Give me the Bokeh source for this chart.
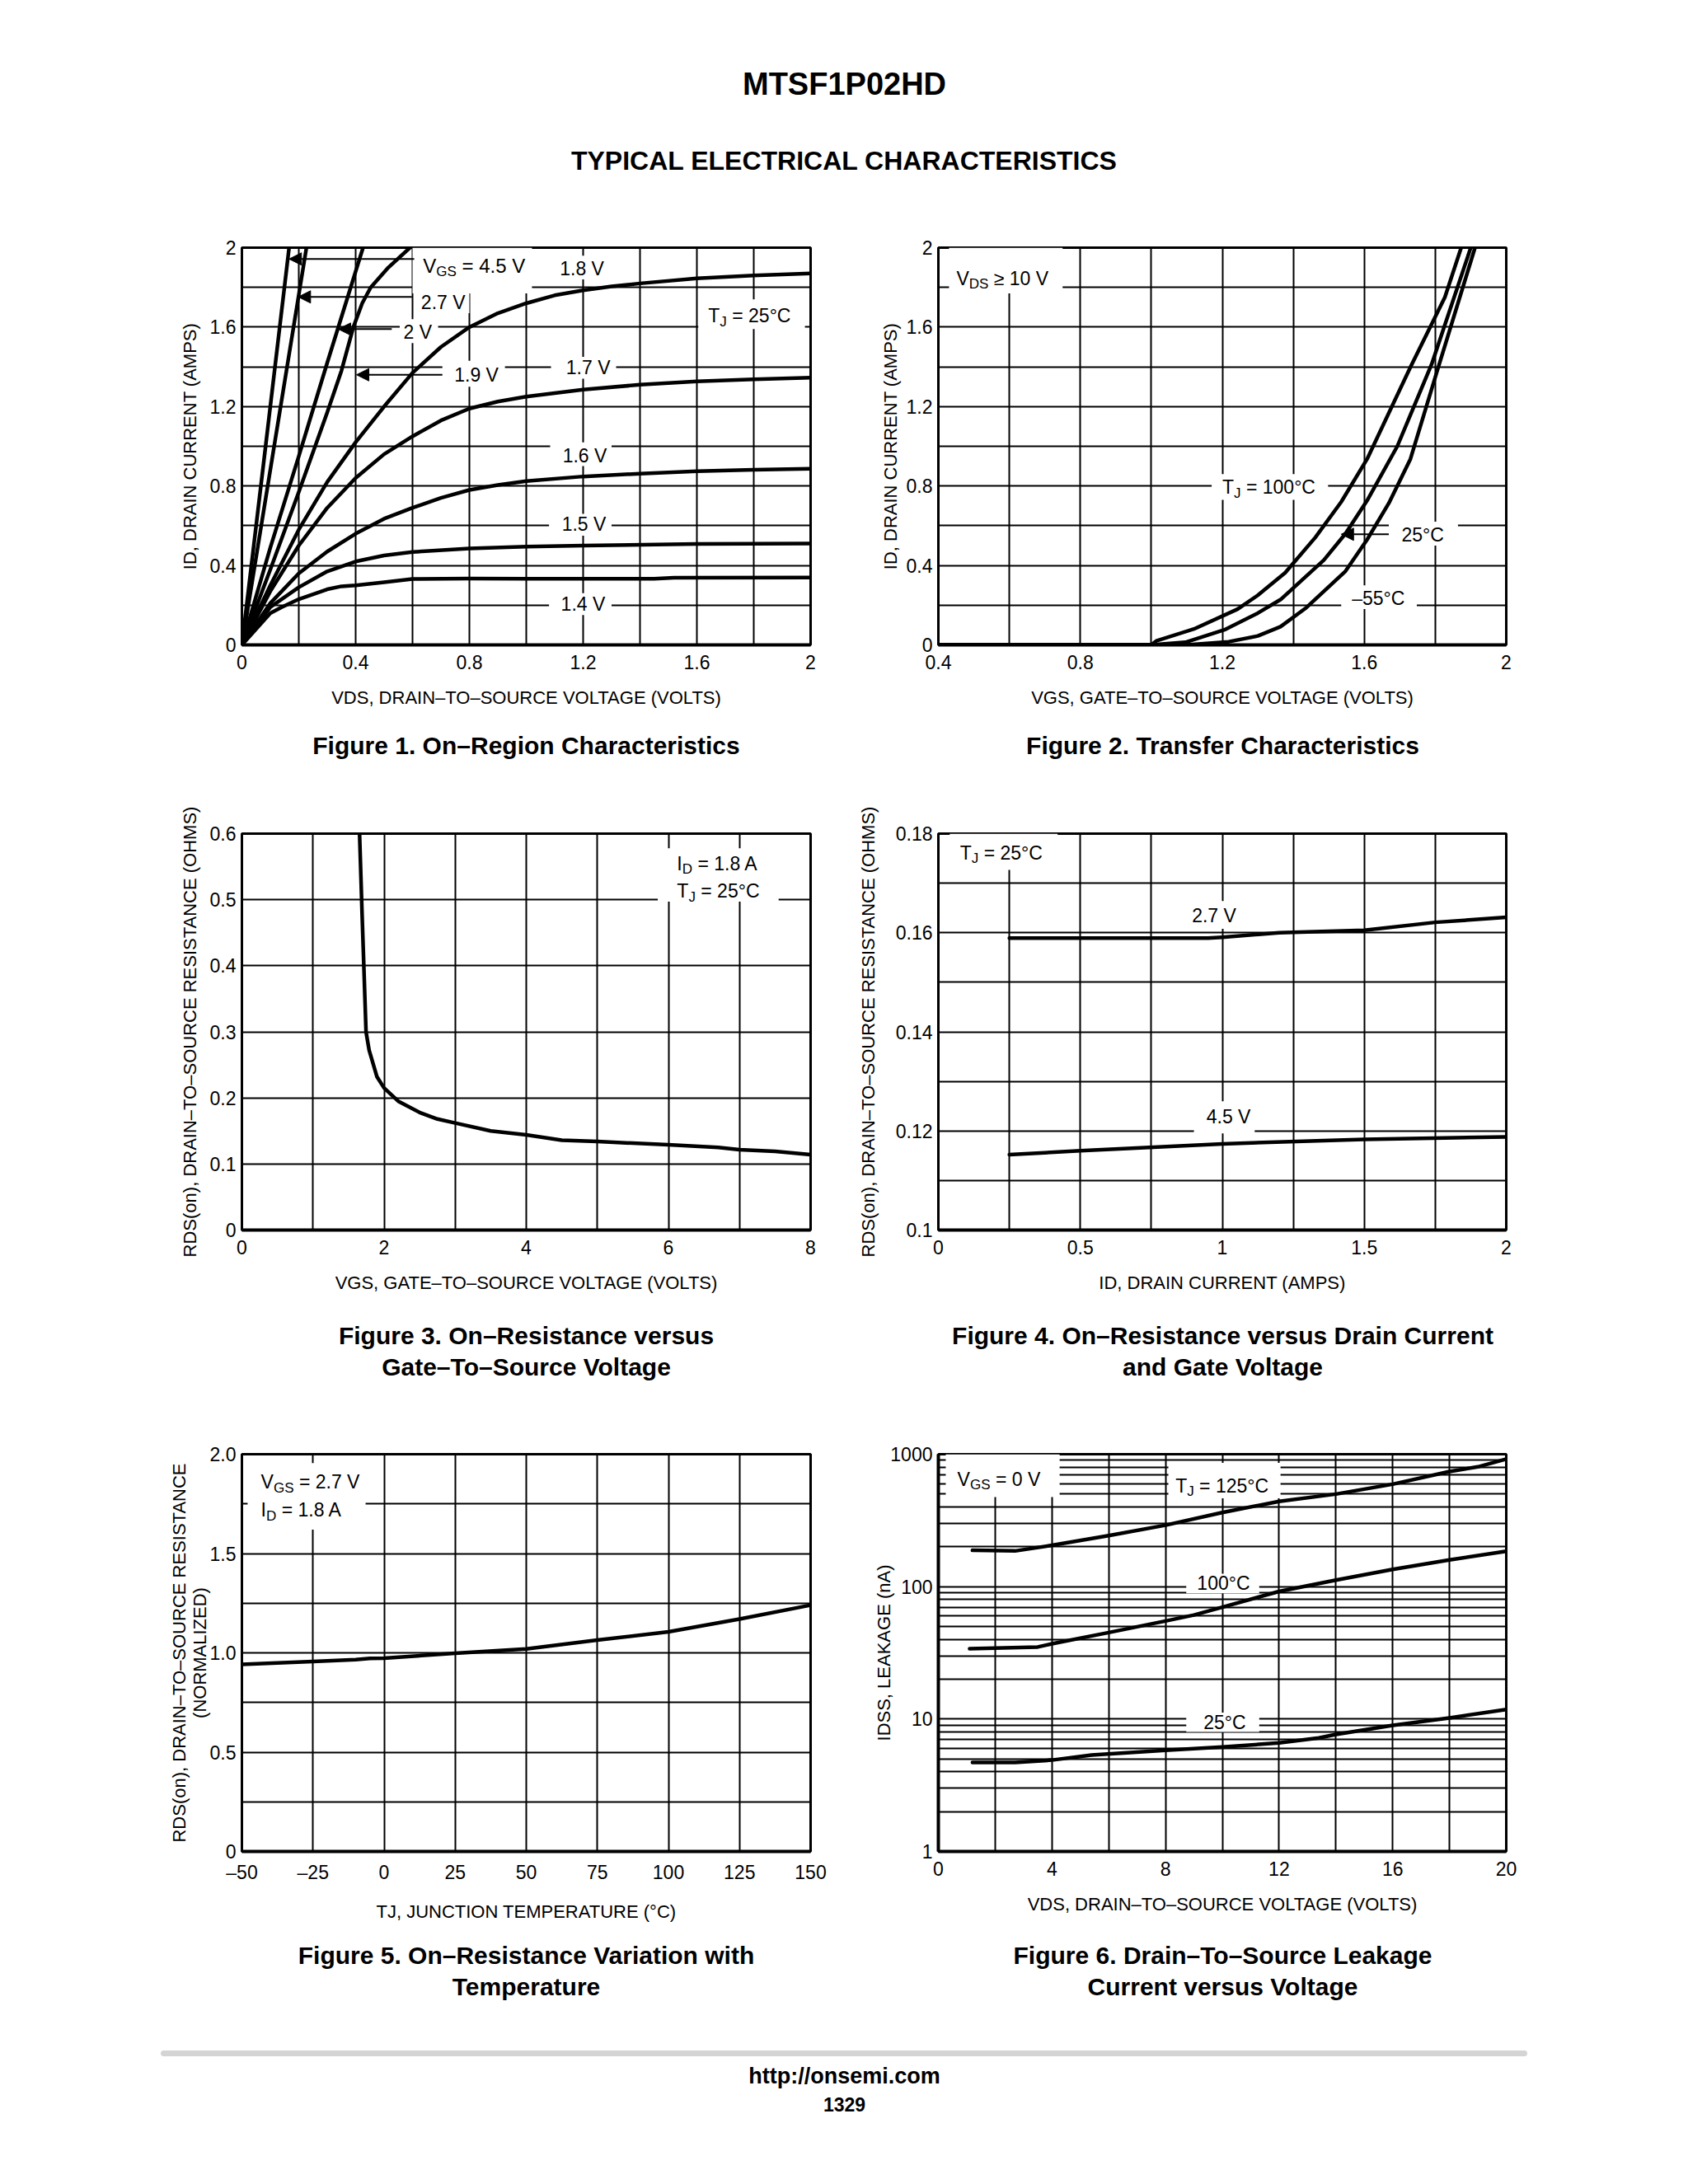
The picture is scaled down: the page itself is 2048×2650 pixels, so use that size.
import numpy as np
from bokeh.plotting import figure
from bokeh.models import Range1d, FixedTicker, Label, Arrow, NormalHead
from bokeh.layouts import column, row
from bokeh.embed import file_html
from bokeh.resources import INLINE

SANS = "Liberation Sans"
BOLD = "Liberation Sans"

# ---------------- Figure 1 data: ID vs VDS for several VGS ----------------
f1_vds_45 = [0.0, 0.08, 0.166]
f1_id_45 = [0.0, 0.96, 2.0]
f1_vds_27 = [0.0, 0.11, 0.227]
f1_id_27 = [0.0, 0.97, 2.0]
f1_vds_20 = [0.0, 0.1, 0.2, 0.3, 0.426]
f1_id_20 = [0.0, 0.49, 0.95, 1.42, 2.0]
f1_vds_19 = [0.0, 0.1, 0.2, 0.3, 0.35, 0.392, 0.423, 0.453, 0.515, 0.591]
f1_id_19 = [0.0, 0.38, 0.77, 1.17, 1.38, 1.60, 1.72, 1.80, 1.90, 2.0]
f1_vds_18 = [0.0, 0.1, 0.2, 0.3, 0.4, 0.5, 0.6, 0.7, 0.8, 0.9, 1.0, 1.1, 1.2, 1.3, 1.4, 1.6, 1.8, 2.0]
f1_id_18 = [0.0, 0.30, 0.58, 0.82, 1.02, 1.20, 1.37, 1.50, 1.60, 1.67, 1.72, 1.76, 1.785, 1.805, 1.82, 1.845, 1.86, 1.87]
f1_vds_17 = [0.0, 0.1, 0.2, 0.3, 0.4, 0.5, 0.6, 0.7, 0.8, 0.9, 1.0, 1.2, 1.4, 1.6, 1.8, 2.0]
f1_id_17 = [0.0, 0.27, 0.50, 0.69, 0.84, 0.96, 1.05, 1.13, 1.19, 1.225, 1.25, 1.285, 1.31, 1.327, 1.337, 1.345]
f1_vds_16 = [0.0, 0.1, 0.2, 0.3, 0.4, 0.5, 0.6, 0.7, 0.8, 0.9, 1.0, 1.2, 1.4, 1.6, 1.8, 2.0]
f1_id_16 = [0.0, 0.21, 0.36, 0.47, 0.56, 0.635, 0.69, 0.74, 0.78, 0.805, 0.825, 0.848, 0.862, 0.874, 0.882, 0.887]
f1_vds_15 = [0.0, 0.1, 0.15, 0.2, 0.3, 0.4, 0.5, 0.6, 0.8, 1.0, 1.2, 1.6, 2.0]
f1_id_15 = [0.0, 0.19, 0.24, 0.29, 0.37, 0.42, 0.45, 0.468, 0.485, 0.495, 0.50, 0.508, 0.51]
f1_vds_14 = [0.0, 0.1, 0.14, 0.2, 0.3, 0.35, 0.4, 0.5, 0.6, 0.8, 1.0, 1.2, 1.45, 1.52, 2.0]
f1_id_14 = [0.0, 0.16, 0.19, 0.23, 0.28, 0.295, 0.30, 0.315, 0.332, 0.334, 0.333, 0.333, 0.333, 0.338, 0.339]
f1_x_ticks = [0, 0.4, 0.8, 1.2, 1.6, 2]
f1_x_labels = ["0", "0.4", "0.8", "1.2", "1.6", "2"]
f1_y_ticks = [0, 0.4, 0.8, 1.2, 1.6, 2]
f1_y_labels = ["0", "0.4", "0.8", "1.2", "1.6", "2"]

# ---------------- Figure 2 data: transfer characteristics ----------------
f2_vgs_100 = [0.4, 1.0, 1.014, 1.12, 1.243, 1.30, 1.377, 1.462, 1.535, 1.608, 1.73, 1.827, 1.873]
f2_id_100 = [0.0, 0.0, 0.02, 0.08, 0.18, 0.25, 0.363, 0.541, 0.72, 0.936, 1.398, 1.75, 2.0]
f2_vgs_25 = [0.4, 1.0, 1.096, 1.206, 1.30, 1.364, 1.486, 1.547, 1.608, 1.693, 1.79, 1.90]
f2_id_25 = [0.0, 0.0, 0.013, 0.076, 0.16, 0.228, 0.427, 0.56, 0.727, 1.0, 1.414, 2.0]
f2_vgs_m55 = [0.4, 1.1, 1.218, 1.30, 1.364, 1.437, 1.547, 1.608, 1.669, 1.73, 1.803, 1.912]
f2_id_m55 = [0.0, 0.0, 0.016, 0.045, 0.092, 0.188, 0.371, 0.53, 0.713, 0.936, 1.366, 2.0]
f2_x_ticks = [0.4, 0.8, 1.2, 1.6, 2]
f2_x_labels = ["0.4", "0.8", "1.2", "1.6", "2"]
f2_y_ticks = [0, 0.4, 0.8, 1.2, 1.6, 2]
f2_y_labels = ["0", "0.4", "0.8", "1.2", "1.6", "2"]

# ---------------- Figure 3 data: RDS(on) vs VGS ----------------
f3_vgs = [1.655, 1.69, 1.715, 1.746, 1.79, 1.90, 2.0, 2.2, 2.5, 2.75, 3.0, 3.5, 4.0, 4.5, 5.0, 6.0, 6.7, 7.0, 7.5, 8.0]
f3_rds = [0.6, 0.48, 0.4, 0.3, 0.272, 0.232, 0.215, 0.195, 0.178, 0.168, 0.162, 0.150, 0.144, 0.136, 0.134, 0.129, 0.125, 0.1216, 0.119, 0.114]
f3_x_ticks = [0, 2, 4, 6, 8]
f3_x_labels = ["0", "2", "4", "6", "8"]
f3_y_ticks = [0, 0.1, 0.2, 0.3, 0.4, 0.5, 0.6]
f3_y_labels = ["0", "0.1", "0.2", "0.3", "0.4", "0.5", "0.6"]

# ---------------- Figure 4 data: RDS(on) vs ID ----------------
f4_id_27 = [0.25, 0.5, 0.75, 0.95, 1.0, 1.2, 1.5, 1.75, 2.0]
f4_rds_27 = [0.1589, 0.1589, 0.1589, 0.1589, 0.1591, 0.1600, 0.1605, 0.1621, 0.1631]
f4_id_45 = [0.25, 0.5, 1.0, 1.5, 2.0]
f4_rds_45 = [0.1152, 0.1160, 0.1174, 0.1183, 0.1188]
f4_x_ticks = [0, 0.5, 1, 1.5, 2]
f4_x_labels = ["0", "0.5", "1", "1.5", "2"]
f4_y_ticks = [0.1, 0.12, 0.14, 0.16, 0.18]
f4_y_labels = ["0.1", "0.12", "0.14", "0.16", "0.18"]

# ---------------- Figure 5 data: normalized RDS(on) vs TJ ----------------
f5_tj = [-50, -25, -10, -5, 0, 25, 50, 75, 100, 125, 150]
f5_rds = [0.942, 0.956, 0.966, 0.972, 0.973, 0.998, 1.02, 1.064, 1.106, 1.17, 1.24]
f5_x_ticks = [-50, -25, 0, 25, 50, 75, 100, 125, 150]
f5_x_labels = ["\u201350", "\u201325", "0", "25", "50", "75", "100", "125", "150"]
f5_y_ticks = [0, 0.5, 1.0, 1.5, 2.0]
f5_y_labels = ["0", "0.5", "1.0", "1.5", "2.0"]

# ---------------- Figure 6 data: IDSS leakage vs VDS ----------------
f6_vds_125 = [1.2, 2.7, 4, 6, 8, 10, 12, 14, 16, 18, 19, 20]
f6_idss_125 = [188, 186, 205, 243, 291, 363, 440, 500, 594, 740, 803, 920]
f6_vds_100 = [1.1, 3.5, 4, 6, 8, 9, 10, 12, 14, 16, 18, 20]
f6_idss_100 = [34, 35, 37, 45, 55, 61, 70, 92, 112, 135, 159, 185]
f6_vds_25 = [1.2, 2.7, 4, 5.4, 8, 10, 12, 13.4, 14, 16, 18, 20]
f6_idss_25 = [4.7, 4.7, 4.9, 5.35, 5.8, 6.15, 6.6, 7.2, 7.65, 8.95, 10.2, 11.8]
f6_x_ticks = [0, 4, 8, 12, 16, 20]
f6_x_labels = ["0", "4", "8", "12", "16", "20"]
f6_y_ticks = [1, 10, 100, 1000]
f6_y_labels = ["1", "10", "100", "1000"]

# ---------------- helpers ----------------
CW = {' ': 0.278, '.': 0.278, ',': 0.278, '=': 0.584, '\u2265': 0.549, '\u00b0': 0.4,
      '\u2013': 0.556, 'V': 0.667, 'G': 0.778, 'S': 0.667, 'D': 0.722, 'T': 0.611,
      'J': 0.5, 'I': 0.278, 'A': 0.667, 'C': 0.722}


def tw(s, size):
    return sum(CW.get(c, 0.556) for c in s) * size


FRAME_W = 690
FRAME_H = 482
TICK_FS = "23px"
AXLAB_FS = "22px"


def chart(side, height, top, bottom, xr, yr, xticks, xlabels, yticks, ylabels,
          xgrid, ygrid, xlabel, ylabel, ystand, ylog=False):
    if side == "L":
        width, bl, br = 1024, 293, 41
    else:
        width, bl, br = 1016, 114, 213
    p = figure(width=width, height=height, x_range=Range1d(*xr), y_range=Range1d(*yr),
               y_axis_type="log" if ylog else "linear", output_backend="svg",
               toolbar_location=None, min_border_left=bl, min_border_right=br,
               min_border_top=top, min_border_bottom=bottom,
               background_fill_color="white", border_fill_color="white")
    xa, ya = p.xaxis[0], p.yaxis[0]
    xa.ticker = FixedTicker(ticks=xticks, minor_ticks=[])
    ya.ticker = FixedTicker(ticks=yticks, minor_ticks=[])
    xa.major_label_overrides = {float(t): l for t, l in zip(xticks, xlabels)}
    ya.major_label_overrides = {float(t): l for t, l in zip(yticks, ylabels)}
    for ax in (xa, ya):
        ax.major_tick_line_color = None
        ax.minor_tick_line_color = None
        ax.major_tick_out = 0
        ax.major_tick_in = 0
        ax.minor_tick_out = 0
        ax.minor_tick_in = 0
        ax.major_label_text_font = SANS
        ax.major_label_text_font_size = TICK_FS
        ax.major_label_text_color = "black"
        ax.axis_label_text_font = SANS
        ax.axis_label_text_font_size = AXLAB_FS
        ax.axis_label_text_font_style = "normal"
        ax.axis_label_text_color = "black"
        ax.axis_line_color = "black"
    ya.axis_label_text_line_height = 1.0
    xa.axis_line_width = 4
    ya.axis_line_width = 3
    xa.major_label_standoff = 12
    ya.major_label_standoff = 7
    xa.axis_label_standoff = 19
    ya.axis_label_standoff = ystand
    xa.axis_label = xlabel
    ya.axis_label = ylabel
    p.xgrid.ticker = FixedTicker(ticks=list(xgrid))
    p.ygrid.ticker = FixedTicker(ticks=list(ygrid))
    p.xgrid.grid_line_color = "black"
    p.ygrid.grid_line_color = "black"
    p.xgrid.grid_line_width = 2
    p.ygrid.grid_line_width = 2
    p.xgrid.grid_line_alpha = 1
    p.ygrid.grid_line_alpha = 1
    p.outline_line_color = "black"
    p.outline_line_width = 3
    p.outline_line_alpha = 1
    p.tags = [FRAME_W / (xr[1] - xr[0]),
              FRAME_H / ((np.log10(yr[1]) - np.log10(yr[0])) if ylog else (yr[1] - yr[0])),
              ylog]
    return p


def boxes(p, lefts, rights, bottoms, tops):
    p.quad(left=lefts, right=rights, bottom=bottoms, top=tops,
           fill_color="white", line_color=None)


def rich(p, x, y, runs, size=23):
    xs, ys, ylog = p.tags
    sub = round(size * 0.72)
    off = 0.0
    for t, is_sub in runs:
        fs = sub if is_sub else size
        stripped = t.lstrip(" ")
        off += tw(t[:len(t) - len(stripped)], fs)
        dy = -0.3 * size if is_sub else 0.0
        yy = 10 ** (np.log10(y) + dy / ys) if ylog else y + dy / ys
        p.add_layout(Label(x=x, y=yy, x_offset=off, text=stripped, text_font=SANS,
                           text_font_size=f"{fs}px", text_align="left",
                           text_baseline="middle", text_color="black"))
        off += tw(stripped, fs)


def curve(p, x, y, w=4.5):
    p.line(x, y, line_color="black", line_width=w, line_join="round", line_cap="round")


def arrow(p, x0, y0, x1, y1):
    p.add_layout(Arrow(end=NormalHead(size=15, fill_color="black", line_color="black",
                                      line_width=1),
                       x_start=x0, y_start=y0, x_end=x1, y_end=y1,
                       line_color="black", line_width=2))


def text_fig(width, height, items):
    p = figure(width=width, height=height, x_range=Range1d(0, width),
               y_range=Range1d(height, 0), output_backend="svg", toolbar_location=None,
               x_axis_location=None, y_axis_location=None, min_border=0,
               background_fill_color="white", border_fill_color="white")
    p.grid.visible = False
    p.outline_line_color = None
    for x, y, t, size in items:
        p.add_layout(Label(x=x, y=y, text=t, text_font=BOLD, text_font_style="bold",
                           text_font_size=f"{size}px", text_align="center",
                           text_baseline="middle", text_color="black"))
    return p


# ---------------- Figure 1 ----------------
p1 = chart("L", 620, 50, 88, (0, 2), (0, 2), f1_x_ticks, f1_x_labels, f1_y_ticks, f1_y_labels,
           np.linspace(0, 2, 11), np.linspace(0, 2, 11),
           "VDS, DRAIN\u2013TO\u2013SOURCE VOLTAGE (VOLTS)", "ID, DRAIN CURRENT (AMPS)", 9)
boxes(p1, [0.6, 1.10, 0.615, 0.555, 0.705, 1.605, 1.087, 1.084, 1.08, 1.08],
      [1.02, 1.30, 0.80, 0.69, 0.925, 1.98, 1.316, 1.30, 1.30, 1.30],
      [1.77, 1.84, 1.67, 1.52, 1.30, 1.59, 1.34, 0.90, 0.55, 0.15],
      [2.0, 1.96, 1.79, 1.64, 1.43, 1.74, 1.45, 1.02, 0.66, 0.26])
for xx, yy in [(f1_vds_45, f1_id_45), (f1_vds_27, f1_id_27), (f1_vds_20, f1_id_20),
               (f1_vds_19, f1_id_19), (f1_vds_18, f1_id_18), (f1_vds_17, f1_id_17),
               (f1_vds_16, f1_id_16), (f1_vds_15, f1_id_15), (f1_vds_14, f1_id_14)]:
    curve(p1, xx, yy)
arrow(p1, 0.606, 1.943, 0.166, 1.943)
arrow(p1, 0.598, 1.752, 0.198, 1.752)
arrow(p1, 0.527, 1.59, 0.339, 1.59)
arrow(p1, 0.705, 1.36, 0.403, 1.36)
rich(p1, 0.637, 1.908, [("V", 0), ("GS", 1), (" = 4.5 V", 0)], 24)
rich(p1, 1.118, 1.895, [("1.8 V", 0)])
rich(p1, 0.63, 1.725, [("2.7 V", 0)])
rich(p1, 0.568, 1.574, [("2 V", 0)])
rich(p1, 0.747, 1.36, [("1.9 V", 0)])
rich(p1, 1.64, 1.657, [("T", 0), ("J", 1), (" =  25\u00b0C", 0)])
rich(p1, 1.14, 1.396, [("1.7 V", 0)])
rich(p1, 1.128, 0.951, [("1.6 V", 0)])
rich(p1, 1.125, 0.607, [("1.5 V", 0)])
rich(p1, 1.122, 0.207, [("1.4 V", 0)])

# ---------------- Figure 2 ----------------
p2 = chart("R", 620, 50, 88, (0.4, 2), (0, 2), f2_x_ticks, f2_x_labels, f2_y_ticks, f2_y_labels,
           np.linspace(0.4, 2, 9), np.linspace(0, 2, 11),
           "VGS, GATE\u2013TO\u2013SOURCE VOLTAGE (VOLTS)", "ID, DRAIN CURRENT (AMPS)", 4)
boxes(p2, [0.43, 1.17, 1.669, 1.535], [0.75, 1.498, 1.864, 1.748],
      [1.77, 0.73, 0.50, 0.18], [2.0, 0.86, 0.62, 0.30])
curve(p2, f2_vgs_m55, f2_id_m55)
curve(p2, f2_vgs_25, f2_id_25)
curve(p2, f2_vgs_100, f2_id_100)
arrow(p2, 1.669, 0.557, 1.535, 0.557)
rich(p2, 0.451, 1.844, [("V", 0), ("DS", 1), (" \u2265 10 V", 0)])
rich(p2, 1.2, 0.793, [("T", 0), ("J", 1), (" = 100\u00b0C", 0)])
rich(p2, 1.705, 0.554, [("25\u00b0C", 0)])
rich(p2, 1.565, 0.236, [("\u201355\u00b0C", 0)])

# ---------------- Figure 3 ----------------
p3 = chart("L", 632, 61, 90, (0, 8), (0, 0.6), f3_x_ticks, f3_x_labels, f3_y_ticks, f3_y_labels,
           np.linspace(0, 8, 9), np.linspace(0, 0.6, 7),
           "VGS, GATE\u2013TO\u2013SOURCE VOLTAGE (VOLTS)",
           "RDS(on), DRAIN\u2013TO\u2013SOURCE RESISTANCE (OHMS)", 9)
boxes(p3, [5.85], [7.55], [0.497], [0.578])
curve(p3, f3_vgs, f3_rds)
rich(p3, 6.12, 0.555, [("I", 0), ("D", 1), (" = 1.8 A", 0)])
rich(p3, 6.12, 0.513, [("T", 0), ("J", 1), (" = 25\u00b0C", 0)])

# ---------------- Figure 4 ----------------
p4 = chart("R", 632, 61, 90, (0, 2), (0.1, 0.18), f4_x_ticks, f4_x_labels, f4_y_ticks, f4_y_labels,
           np.linspace(0, 2, 9), np.linspace(0.1, 0.18, 9),
           "ID, DRAIN CURRENT (AMPS)",
           "RDS(on), DRAIN\u2013TO\u2013SOURCE RESISTANCE (OHMS)", 18)
boxes(p4, [0.04, 0.87, 0.90], [0.42, 1.08, 1.114], [0.1727, 0.1608, 0.1195], [0.18, 0.1664, 0.126])
curve(p4, f4_id_27, f4_rds_27)
curve(p4, f4_id_45, f4_rds_45)
rich(p4, 0.076, 0.1761, [("T", 0), ("J", 1), (" =  25\u00b0C", 0)])
rich(p4, 0.893, 0.1635, [("2.7 V", 0)])
rich(p4, 0.944, 0.1228, [("4.5 V", 0)])

# ---------------- Figure 5 ----------------
p5 = chart("L", 635, 64, 89, (-50, 150), (0, 2), f5_x_ticks, f5_x_labels, f5_y_ticks, f5_y_labels,
           np.linspace(-50, 150, 9), np.linspace(0, 2, 9),
           "TJ, JUNCTION TEMPERATURE (\u00b0C)",
           "RDS(on), DRAIN\u2013TO\u2013SOURCE RESISTANCE\n(NORMALIZED)", -3)
boxes(p5, [-48], [-6.5], [1.62], [1.955])
curve(p5, f5_tj, f5_rds)
rich(p5, -43.3, 1.86, [("V", 0), ("GS", 1), (" = 2.7 V", 0)])
rich(p5, -43.3, 1.718, [("I", 0), ("D", 1), (" = 1.8 A", 0)])

# ---------------- Figure 6 ----------------
grid6 = [m * d for d in (1, 10, 100) for m in range(1, 10)] + [1000]
p6 = chart("R", 635, 64, 89, (0, 20), (1, 1000), f6_x_ticks, f6_x_labels, f6_y_ticks, f6_y_labels,
           np.linspace(0, 20, 11), grid6,
           "VDS, DRAIN\u2013TO\u2013SOURCE VOLTAGE (VOLTS)", "IDSS, LEAKAGE (nA)", -8, ylog=True)
p6.yaxis[0].axis_line_width = 4
boxes(p6, [0.26, 8.1, 8.73, 8.73], [4.27, 12.05, 11.3, 11.3], [474, 465, 89, 8.0], [1000, 860, 125, 11.2])
curve(p6, f6_vds_125, f6_idss_125)
curve(p6, f6_vds_100, f6_idss_100)
curve(p6, f6_vds_25, f6_idss_25)
rich(p6, 0.67, 645, [("V", 0), ("GS", 1), (" = 0 V", 0)])
rich(p6, 8.35, 578, [("T", 0), ("J", 1), (" = 125\u00b0C", 0)])
rich(p6, 9.11, 106, [("100\u00b0C", 0)])
rich(p6, 9.34, 9.46, [("25\u00b0C", 0)])

# ---------------- page texts ----------------
header = text_fig(2040, 250, [(1024, 101, "MTSF1P02HD", 38),
                              (1024, 194, "TYPICAL ELECTRICAL CHARACTERISTICS", 32)])
cap1 = text_fig(1024, 80, [(638, 34, "Figure 1. On\u2013Region Characteristics", 30)])
cap2 = text_fig(1016, 80, [(459, 34, "Figure 2. Transfer Characteristics", 30)])
cap3 = text_fig(1024, 118, [(638, 38, "Figure 3. On\u2013Resistance versus", 30),
                            (638, 76, "Gate\u2013To\u2013Source Voltage", 30)])
cap4 = text_fig(1016, 118, [(459, 38, "Figure 4. On\u2013Resistance versus Drain Current", 30),
                            (459, 76, "and Gate Voltage", 30)])
cap5 = text_fig(1024, 115, [(638, 37, "Figure 5. On\u2013Resistance Variation with", 30),
                            (638, 75, "Temperature", 30)])
cap6 = text_fig(1016, 115, [(459, 37, "Figure 6. Drain\u2013To\u2013Source Leakage", 30),
                            (459, 75, "Current versus Voltage", 30)])
footer = text_fig(2040, 190, [(1024, 68, "http://onsemi.com", 27), (1024, 103, "1329", 23)])
footer.segment(x0=[198], y0=[41], x1=[1849], y1=[41], line_color="#d4d4d4", line_width=7,
               line_cap="round")

layout = column(header, row(p1, p2), row(cap1, cap2), row(p3, p4), row(cap3, cap4),
                row(p5, p6), row(cap5, cap6), footer)

with open("out.html", "w") as f:
    f.write(file_html(layout, INLINE, title="MTSF1P02HD"))
